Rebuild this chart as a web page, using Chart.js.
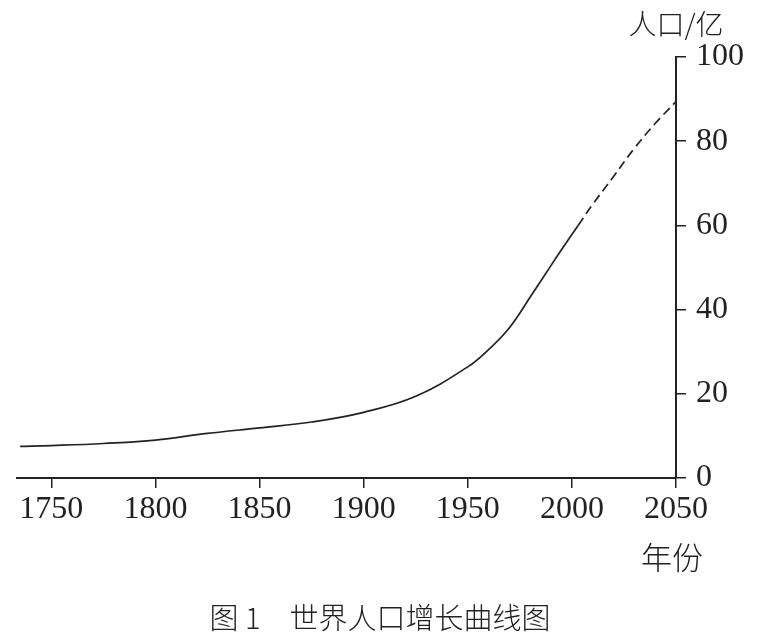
<!DOCTYPE html>
<html lang="zh">
<head>
    <meta charset="UTF-8">
    <title>世界人口增长曲线图</title>
    <script src="https://cdn.jsdelivr.net/npm/chart.js"></script>
    <style>
        html, body { margin: 0; padding: 0; background: #fff; }
        #box { width: 765px; height: 638px; }
    </style>
</head>
<body>
    <div id="box"><canvas id="popChart"></canvas></div>
    <script>
        // 实测部分（实线）
        const years = [1735, 1750, 1775, 1800, 1825, 1850, 1875, 1900, 1925, 1950, 1960, 1970, 1980, 1990, 1995, 2003];
        const pop = [7.5, 7.7, 8.2, 9.0, 10.6, 11.9, 13.3, 15.6, 19.4, 26.4, 30.5, 35.7, 43.0, 50.5, 54.2, 60.0];
        // 预测部分（虚线）
        const projYears = [2003, 2010, 2020, 2030, 2040, 2050];
        const projPop = [60.0, 65.0, 71.6, 78.3, 84.2, 89.4];

        const xTicks = [1750, 1800, 1850, 1900, 1950, 2000, 2050];
        const yTicks = [0, 20, 40, 60, 80, 100];

        const ink = '#222';
        const numFont = { family: "'Liberation Serif', 'Times New Roman', serif", size: 32 };
        const cjk = "'Noto Sans CJK SC', sans-serif";

        // 轴名和图题
        const labels = {
            id: 'labels',
            afterDraw(chart) {
                const c = chart.ctx;
                const x = chart.scales.x;
                c.save();
                c.fillStyle = ink;
                c.textAlign = 'center';
                c.textBaseline = 'middle';
                c.font = '300 28px ' + cjk;
                c.fillText('人口/亿', x.right, 24);
                c.font = '300 31px ' + cjk;
                c.fillText('年份', x.right - 4, 557);
                c.font = '300 29px ' + cjk;
                c.fillText('图 1\u3000世界人口增长曲线图', 380, 618);
                c.restore();
            }
        };

        const pts = (xs, ys) => xs.map((v, i) => ({ x: v, y: ys[i] }));

        new Chart(document.getElementById('popChart').getContext('2d'), {
            type: 'line',
            data: {
                datasets: [{
                    data: pts(years, pop),
                    borderColor: ink,
                    borderWidth: 1.7,
                    pointRadius: 0,
                    tension: 0.4,
                    fill: false
                }, {
                    data: pts(projYears, projPop),
                    borderColor: ink,
                    borderWidth: 1.7,
                    borderDash: [9, 5],
                    pointRadius: 0,
                    tension: 0.4,
                    fill: false
                }]
            },
            options: {
                responsive: true,
                maintainAspectRatio: false,
                animation: false,
                layout: { padding: { left: 17, top: 57, right: 0, bottom: 0 } },
                plugins: { legend: { display: false }, tooltip: { enabled: false } },
                scales: {
                    x: {
                        type: 'linear',
                        min: 1733.5,
                        max: 2050,
                        afterFit(s) { s.height = 160; },
                        afterBuildTicks(s) { s.ticks = xTicks.map(v => ({ value: v })); },
                        ticks: { color: ink, font: numFont, padding: 2, maxRotation: 0, callback: v => String(v) },
                        grid: { drawOnChartArea: false, color: ink, tickLength: 10, lineWidth: 1.5 },
                        border: { color: ink, width: 2 }
                    },
                    y: {
                        position: 'right',
                        min: 0,
                        max: 100,
                        afterFit(s) { s.width = 89; },
                        afterBuildTicks(s) { s.ticks = yTicks.map(v => ({ value: v })); },
                        ticks: { color: ink, font: numFont, padding: 10, callback: v => String(v) },
                        grid: { drawOnChartArea: false, color: ink, tickLength: 10, lineWidth: 1.5 },
                        border: { color: ink, width: 2 }
                    }
                }
            },
            plugins: [labels]
        });
    </script>
</body>
</html>
